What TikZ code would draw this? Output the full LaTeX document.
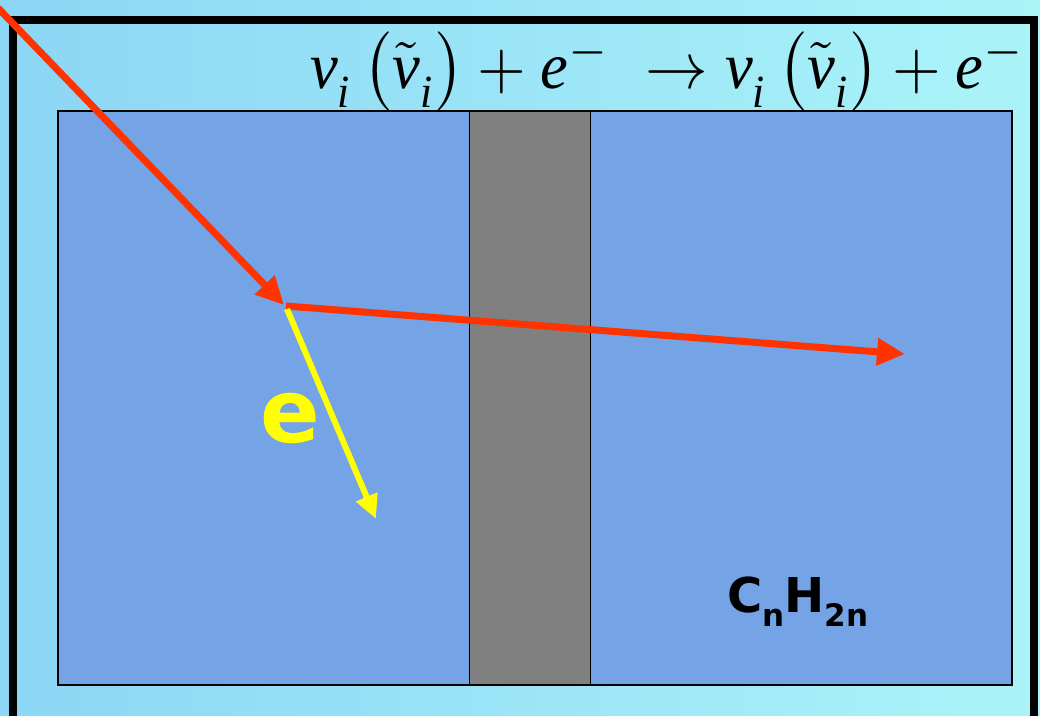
\documentclass[tikz,border=0pt]{standalone}
\usepackage{amsmath}
\usepackage{fontspec}
\setmainfont{Liberation Serif}
\newfontfamily\labfont{DejaVu Sans}
\usetikzlibrary{arrows.meta}
\definecolor{bgleft}{HTML}{8CD6F6}
\definecolor{bgright}{HTML}{AAF4F8}
\definecolor{slab}{HTML}{74A3E6}
\definecolor{wall}{HTML}{808080}
\definecolor{nured}{HTML}{FF3300}
\definecolor{eyel}{HTML}{FFFF00}
\newcommand{\tnu}{\text{\itshape ν}}
\newcommand{\ti}{\raisebox{-0.45ex}{\itshape i}}
\newcommand{\te}{\text{\itshape e}}
\tikzset{
  nuline/.style={draw=nured, line width=7pt, -{Triangle[length=28pt,width=26pt]}},
  eline/.style={draw=eyel, line width=6pt, -{Triangle[length=24pt,width=22pt]}},
  box/.style={draw=black, line width=1.5pt},
}
\begin{document}
\begin{tikzpicture}[x=1pt,y=-1pt]
\useasboundingbox (0,0) rectangle (1040,715);
\shade[left color=bgleft, right color=bgright] (0,0) rectangle (1040,715);
% frame
\draw[line width=8pt, miter limit=10] (13,720) -- (13,20) -- (1034,20) -- (1034,720);
% slab
\fill[slab] (58,111) rectangle (1012,685);
\fill[wall] (469,111) rectangle (590,685);
\draw[box] (58,111) rectangle (1012,685);
\draw[black, line width=1pt] (469,111) -- (469,685) (590,111) -- (590,685);
% equation
\node[anchor=base west, inner sep=0pt] (eq) at (310,88)
  {\resizebox{715pt}{56pt}{$\tnu_{\text{\ti}}\,\bigl(\tilde{\tnu}_{\text{\ti}}\bigr)+\te^{-}\;\rightarrow\tnu_{\text{\ti}}\,\bigl(\tilde{\tnu}_{\text{\ti}}\bigr)+\te^{-}$}};
% arrows
\coordinate (src) at (-2,8);
\coordinate (hit) at (284,305);
\coordinate (hitb) at (286,306);
\coordinate (hitc) at (287,309);
\coordinate (nuout) at (905,354);
\coordinate (eout) at (376,519);
\draw[nuline] (src) -- (hit);
\draw[nuline] (hitb) -- (nuout);
\draw[eline] (hitc) -- (eout);
% labels
\node[anchor=base, inner sep=0pt, text=eyel] (elab) at (290,442)
  {\labfont\bfseries\fontsize{88}{90}\selectfont e};
\node[anchor=base west, inner sep=0pt] (chem) at (727,612)
  {\labfont\bfseries\fontsize{48}{50}\selectfont C\raisebox{-14pt}{\fontsize{31}{32}\selectfont n}H\raisebox{-14pt}{\fontsize{31}{32}\selectfont 2n}};
\end{tikzpicture}
\end{document}
